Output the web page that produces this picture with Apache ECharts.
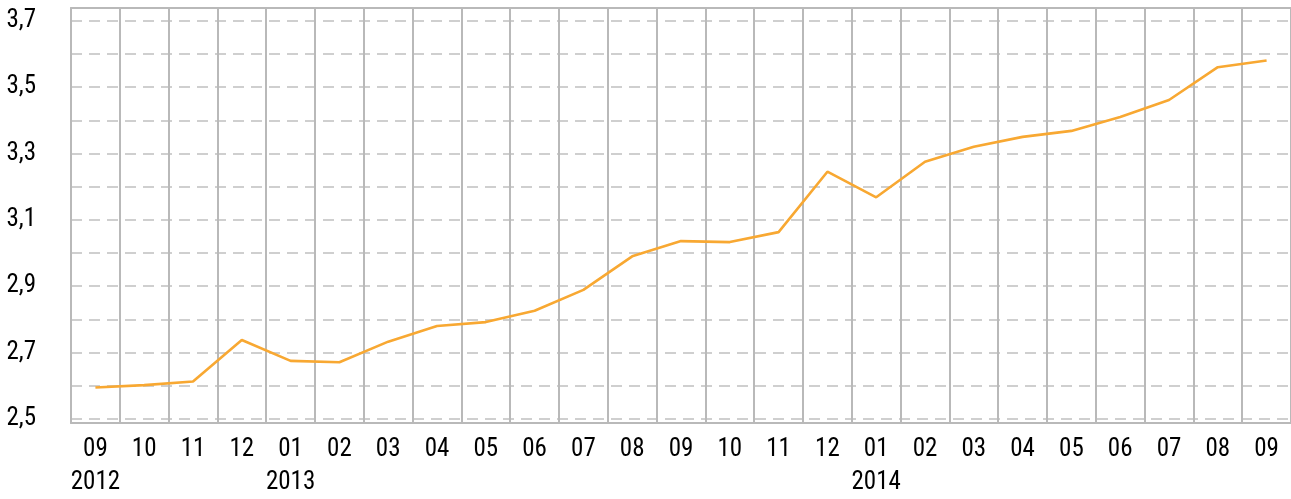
<!DOCTYPE html>
<html>
<head>
<meta charset="utf-8">
<script src="https://cdn.jsdelivr.net/npm/echarts@6/dist/echarts.min.js"></script>
<style>
  html, body { margin: 0; padding: 0; background: #ffffff; }
  #chart { width: 1291px; height: 499px; }
</style>
</head>
<body>
<div id="chart"></div>
<script>
// Monthly values, September 2012 – September 2014
const months = ['09','10','11','12','01','02','03','04','05','06','07','08','09','10','11','12','01','02','03','04','05','06','07','08','09'];
const years  = ['2012','','','','2013','','','','','','','','','','','','2014','','','','','','','',''];
const values = [2.595, 2.602, 2.613, 2.738, 2.675, 2.671, 2.733, 2.78, 2.792, 2.826, 2.889, 2.99, 3.036, 3.033, 3.063, 3.245, 3.168, 3.275, 3.32, 3.35, 3.368, 3.41, 3.461, 3.56, 3.58];

// Y-axis range and step for the dashed grid
const yMin = 2.5, yMax = 3.7, yStep = 0.1;

const categories = months.map((m, i) => years[i] ? m + '\n' + years[i] : m);

const FONT = '"Roboto Condensed", "DejaVu Sans Condensed", "Liberation Sans Narrow", "Liberation Sans", sans-serif';
const GRID_GRAY = '#b9b9b9';
const PLOT_LEFT = 71, PLOT_WIDTH = 1237;

const chart = echarts.init(document.getElementById('chart'), null, { renderer: 'canvas' });

chart.setOption({
  animation: false,
  backgroundColor: '#ffffff',
  grid: [
    // frame: vertical month separators, top border and bottom axis
    { left: PLOT_LEFT, top: 8, width: PLOT_WIDTH, height: 420, containLabel: false },
    // data area: 2.5 .. 3.7
    { left: PLOT_LEFT, top: 20.7, width: PLOT_WIDTH, height: 398.3, containLabel: false }
  ],
  xAxis: [
    {
      gridIndex: 0, type: 'category', data: categories, boundaryGap: true,
      axisLine: { show: true, lineStyle: { color: GRID_GRAY, width: 2 } },
      axisTick: { show: false },
      splitLine: { show: true, interval: 0, lineStyle: { color: GRID_GRAY, width: 2 } },
      axisLabel: {
        interval: 0, margin: 10, color: '#000000',
        fontFamily: FONT, fontSize: 25, lineHeight: 33
      }
    },
    {
      gridIndex: 0, type: 'category', data: categories, position: 'top',
      axisLine: { show: true, lineStyle: { color: GRID_GRAY, width: 2 } },
      axisTick: { show: false }, axisLabel: { show: false }, splitLine: { show: false }
    },
    {
      gridIndex: 1, type: 'category', data: categories, boundaryGap: true, show: false
    }
  ],
  yAxis: [
    {
      gridIndex: 0, type: 'value', min: 0, max: 1,
      axisLine: { show: true, lineStyle: { color: GRID_GRAY, width: 2 } },
      axisTick: { show: false }, axisLabel: { show: false }, splitLine: { show: false }
    },
    {
      gridIndex: 1, type: 'value', min: yMin, max: yMax, interval: yStep,
      axisLine: { show: false }, axisTick: { show: false },
      splitLine: { show: true, lineStyle: { color: '#c0c0c0', width: 1.5, type: [11, 7] } },
      axisLabel: {
        margin: 35, color: '#000000', fontFamily: FONT, fontSize: 25,
        formatter: v => (Math.round(v * 10) % 2 === 1) ? v.toFixed(1).replace('.', ',') : ''
      }
    }
  ],
  series: [
    {
      type: 'line', xAxisIndex: 2, yAxisIndex: 1, data: values,
      symbol: 'none', smooth: false,
      lineStyle: { color: '#f8a832', width: 2.6 }
    }
  ]
});
</script>
</body>
</html>
